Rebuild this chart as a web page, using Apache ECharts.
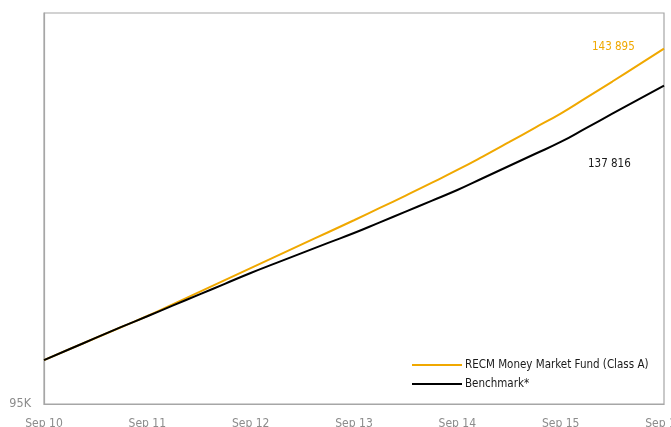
<!DOCTYPE html>
<html>
<head>
<meta charset="utf-8">
<script src="https://cdn.jsdelivr.net/npm/echarts@6/dist/echarts.min.js"></script>
<style>
html,body{margin:0;padding:0;background:#fff;}
#chart{width:671px;height:427px;}
</style>
</head>
<body>
<div id="chart"></div>
<script>
// Quarterly points, Sep 2010 .. Sep 2016
const periods = [
  'Sep 10','Dec 10','Mar 11','Jun 11','Sep 11','Dec 11','Mar 12','Jun 12','Sep 12',
  'Dec 12','Mar 13','Jun 13','Sep 13','Dec 13','Mar 14','Jun 14','Sep 14',
  'Dec 14','Mar 15','Jun 15','Sep 15','Dec 15','Mar 16','Jun 16','Sep 16'
];
const fundName = 'RECM Money Market Fund (Class A)';
const benchName = 'Benchmark*';
const fundValues = [
  100000, 101300, 102610, 103940, 105290, 106760, 108260, 109790, 111340,
  112910, 114500, 116110, 117750, 119450, 121190, 122990, 124870,
  126880, 128990, 131170, 133380, 135890, 138460, 141140, 143895
];
const benchValues = [
  100000, 101300, 102620, 103950, 105260, 106600, 107950, 109320, 110710,
  112030, 113350, 114680, 116000, 117460, 118940, 120450, 121980,
  123700, 125450, 127220, 129020, 131170, 133350, 135570, 137816
];
const yMin = 95000;
const yMax = 150000;
const yMinLabel = '95K';
const fundEndLabel = '143 895';
const benchEndLabel = '137 816';

const FONT = "'Liberation Sans Narrow', 'DejaVu Sans Condensed', 'Roboto', sans-serif";
const ORANGE = '#f0a800';
const BLACK = '#000000';

const chart = echarts.init(document.getElementById('chart'), null, {renderer: 'canvas'});
chart.setOption({
  animation: false,
  textStyle: {fontFamily: FONT},
  grid: {
    left: 44, right: 7, top: 13, bottom: 23,
    outerBoundsMode: 'none', containLabel: false,
    show: true, borderColor: '#a6a6a6', borderWidth: 1.2, backgroundColor: 'transparent'
  },
  legend: {
    orient: 'vertical',
    left: 412, top: 359, padding: 0,
    itemWidth: 50, itemHeight: 12, itemGap: 7,
    icon: 'path://M0,5 L50,5 L50,7 L0,7 Z',
    textStyle: {fontFamily: FONT, fontSize: 11.5, color: '#1a1a1a', padding: [0,0,0,-2]},
    data: [fundName, benchName]
  },
  xAxis: {
    type: 'category',
    data: periods,
    boundaryGap: false,
    axisLine: {show: true, lineStyle: {color: '#a6a6a6', width: 1.2}},
    axisTick: {show: false},
    axisLabel: {
      interval: 3, margin: 14,
      color: '#8c8c8c', fontFamily: FONT, fontSize: 12
    },
    splitLine: {show: false}
  },
  yAxis: {
    type: 'log',
    logBase: 10,
    min: yMin, max: yMax,
    axisLine: {show: true, lineStyle: {color: '#a6a6a6', width: 1.2}},
    axisTick: {show: false},
    splitLine: {show: false},
    axisLabel: {
      showMinLabel: true, margin: 13,
      color: '#8c8c8c', fontFamily: FONT, fontSize: 12.5,
      formatter: function (v) { return Math.abs(v - yMin) < 1 ? yMinLabel : ''; }
    }
  },
  series: [
    {
      name: fundName, type: 'line', data: fundValues, symbol: 'none', smooth: true,
      lineStyle: {color: ORANGE, width: 2}, itemStyle: {color: ORANGE}, z: 2
    },
    {
      name: benchName, type: 'line', data: benchValues, symbol: 'none', smooth: true,
      lineStyle: {color: BLACK, width: 2}, itemStyle: {color: BLACK}, z: 3
    }
  ],
  graphic: [
    {type: 'text', left: 592, top: 41, style: {text: fundEndLabel, fill: ORANGE, font: "11.5px " + FONT}},
    {type: 'text', left: 588, top: 158, style: {text: benchEndLabel, fill: '#1a1a1a', font: "11.5px " + FONT}}
  ]
});
</script>
</body>
</html>
